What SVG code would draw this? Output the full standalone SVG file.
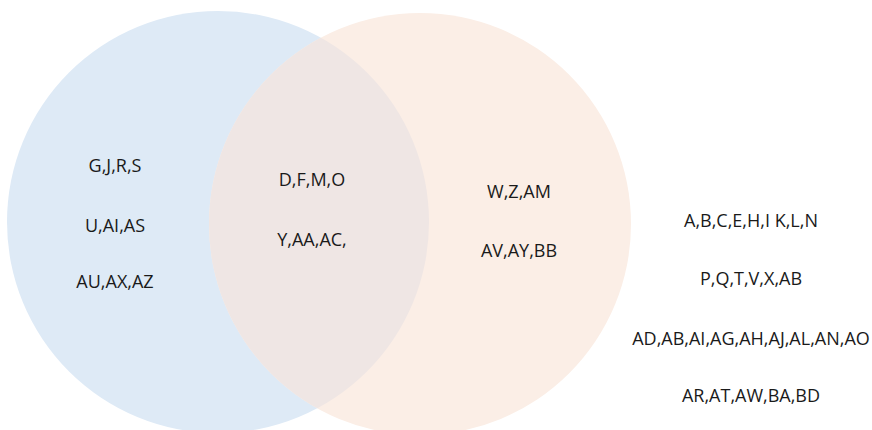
<svg xmlns="http://www.w3.org/2000/svg" width="872" height="430" viewBox="0 0 872 430">
  <style>
    .lbl { font-family: "Open Sans", "Noto Sans", "DejaVu Sans", sans-serif; font-size: 18px; fill: #1a1a1a; text-anchor: middle; }
  </style>
  <defs>
    <clipPath id="clip-right">
      <circle cx="420" cy="224" r="211"/>
    </clipPath>
  </defs>
  <rect x="0" y="0" width="872" height="430" fill="#ffffff"/>

  <!-- set A -->
  <g id="set-left">
    <circle cx="218" cy="222" r="211" fill="#DEEAF6"/>
  </g>
  <!-- set B -->
  <g id="set-right">
    <circle cx="420" cy="224" r="211" fill="#FBEEE6"/>
  </g>
  <!-- A ∩ B -->
  <g id="set-overlap">
    <circle cx="218" cy="222" r="211" fill="#EFE6E4" clip-path="url(#clip-right)"/>
  </g>

  <g id="connectors"/>

  <g id="left-only">
    <text class="lbl" x="115" y="172">G,J,R,S</text>
    <text class="lbl" x="115" y="232">U,AI,AS</text>
    <text class="lbl" x="115" y="288">AU,AX,AZ</text>
  </g>
  <g id="both">
    <text class="lbl" x="312" y="186">D,F,M,O</text>
    <text class="lbl" x="312" y="246">Y,AA,AC,</text>
  </g>
  <g id="right-only">
    <text class="lbl" x="519" y="198">W,Z,AM</text>
    <text class="lbl" x="519" y="257">AV,AY,BB</text>
  </g>
  <g id="neither">
    <text class="lbl" x="751" y="227">A,B,C,E,H,I K,L,N</text>
    <text class="lbl" x="751" y="285">P,Q,T,V,X,AB</text>
    <text class="lbl" x="751" y="345">AD,AB,AI,AG,AH,AJ,AL,AN,AO</text>
    <text class="lbl" x="751" y="402">AR,AT,AW,BA,BD</text>
  </g>
</svg>
